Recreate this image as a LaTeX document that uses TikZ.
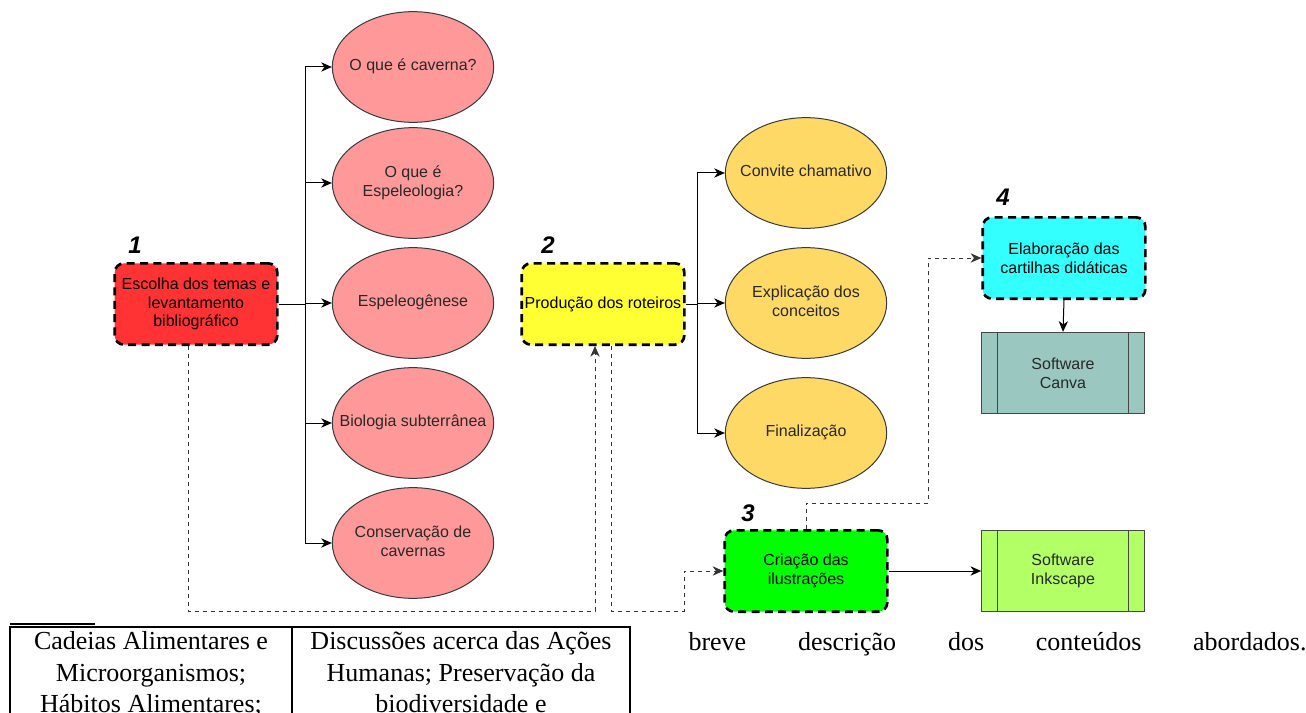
\documentclass[tikz,border=0pt]{standalone}
\usepackage{fontspec}
\setmainfont{Liberation Serif}
\newfontfamily\diagfont{Liberation Sans}
\usetikzlibrary{shapes.geometric,arrows.meta}

\newcommand{\ovaltxt}[1]{\makebox[0pt]{\begin{tabular}{@{}c@{}}#1\end{tabular}}}

\tikzset{every picture/.style={line width=0.75pt}}
\tikzset{
  etapa/.style={draw=black, line width=2pt, dash pattern=on 6pt off 4pt, rounded corners=7pt,
    minimum width=122pt, minimum height=61pt, inner sep=1pt, align=center,
    font=\diagfont\fontsize{12}{14}\selectfont},
  oval/.style={ellipse, draw={rgb, 255:red, 54; green, 57; blue, 61}, line width=0.75pt,
    minimum width=121pt, minimum height=83pt, inner sep=0pt,
    font=\diagfont\fontsize{12}{14}\selectfont, text={rgb, 255:red, 40; green, 40; blue, 40}},
  programa/.style={draw={rgb, 255:red, 70; green, 70; blue, 70}, line width=0.75pt,
    minimum width=122pt, minimum height=61pt, align=center,
    font=\diagfont\fontsize{12}{14}\selectfont, text={rgb, 255:red, 40; green, 40; blue, 40},
    path picture={\draw[line width=0.75pt, color={rgb, 255:red, 70; green, 70; blue, 70}]
      ([xshift=12pt]path picture bounding box.north west) -- ([xshift=12pt]path picture bounding box.south west)
      ([xshift=-12pt]path picture bounding box.north east) -- ([xshift=-12pt]path picture bounding box.south east);}},
  numero/.style={inner sep=0.75pt, font=\diagfont\fontsize{18}{20}\selectfont\bfseries\itshape},
  seta/.style={-{Stealth[length=8pt,width=7pt,inset=2.5pt]}, line width=0.75pt},
  tracejado/.style={line width=0.75pt, dash pattern=on 3pt off 3pt, draw={rgb, 255:red, 51; green, 51; blue, 51}},
  corpo/.style={inner sep=0pt, font=\fontsize{19.5}{23.6}\selectfont}
}

\begin{document}
\begin{tikzpicture}[x=0.75pt,y=0.75pt,yscale=-1,xscale=1]
\useasboundingbox (0,0) rectangle (1306,713);

%Shape: Rounded Rect (etapas)
\draw (196,304) node [etapa, fill={rgb, 255:red, 255; green, 51; blue, 51}] (tema) {Escolha dos temas e\\levantamento\\bibliográfico};
\draw (603,304) node [etapa, fill={rgb, 255:red, 255; green, 255; blue, 51}] (roteiro) {Produção dos roteiros};
\draw (806,571) node [etapa, fill={rgb, 255:red, 0; green, 255; blue, 0}] (ilustra) {Criação das\\ilustrações};
\draw (1064,258) node [etapa, fill={rgb, 255:red, 51; green, 255; blue, 255}] (cartilha) {Elaboração das\\cartilhas didáticas};

% Text Node (numeros)
\draw (135,245) node [numero] (n1) {1};
\draw (548,245) node [numero] (n2) {2};
\draw (748,513) node [numero] (n3) {3};
\draw (1003,197) node [numero] (n4) {4};

%Shape: Ellipse (temas)
\draw (413,67) node [oval, fill={rgb, 255:red, 255; green, 153; blue, 153}] (caverna) {\ovaltxt{O que é caverna?}};
\draw (413,183) node [oval, fill={rgb, 255:red, 255; green, 153; blue, 153}] (espeleo) {\ovaltxt{O que é\\Espeleologia?}};
\draw (413,303) node [oval, fill={rgb, 255:red, 255; green, 153; blue, 153}] (genese) {\ovaltxt{Espeleogênese}};
\draw (413,423) node [oval, fill={rgb, 255:red, 255; green, 153; blue, 153}] (biologia) {\ovaltxt{Biologia subterrânea}};
\draw (413,543) node [oval, fill={rgb, 255:red, 255; green, 153; blue, 153}] (conserva) {\ovaltxt{Conservação de\\cavernas}};

%Shape: Ellipse (roteiro)
\draw (806,173) node [oval, fill={rgb, 255:red, 255; green, 217; blue, 102}] (convite) {\ovaltxt{Convite chamativo}};
\draw (806,303) node [oval, fill={rgb, 255:red, 255; green, 217; blue, 102}] (explica) {\ovaltxt{Explicação dos\\conceitos}};
\draw (806,433) node [oval, fill={rgb, 255:red, 255; green, 217; blue, 102}] (final) {\ovaltxt{Finalização}};

%Shape: Process (softwares)
\draw (1063,373) node [programa, fill={rgb, 255:red, 154; green, 199; blue, 191}] (canva) {Software\\Canva};
\draw (1063,571) node [programa, fill={rgb, 255:red, 179; green, 255; blue, 102}] (inkscape) {Software\\Inkscape};

%Straight Lines (ramos)
\coordinate (troncoA) at (305,304);
\coordinate (troncoB) at (697,304);
\draw (tema.east) -- (troncoA);
\foreach \alvo in {caverna,espeleo,genese,biologia,conserva}
  \draw [seta] (troncoA) |- (\alvo.west);
\draw (roteiro.east) -- (troncoB);
\foreach \alvo in {convite,explica,final}
  \draw [seta] (troncoB) |- (\alvo.west);
\draw [seta] (cartilha.south) -- (canva.north);
\draw [seta] (ilustra.east) -- (inkscape.west);

%Dashed Lines (sequencia)
\draw [tracejado, seta] ([xshift=-6pt]tema.south) |- (595,611) -- ([xshift=-6pt]roteiro.south);
\draw [tracejado, seta] ([xshift=6pt]roteiro.south) |- (684,611) |- (ilustra.west);
\draw [tracejado, seta] (ilustra.north) |- (928,503) |- (cartilha.west);

%Table (texto da pagina)
\draw [line width=1.5pt] (10,624) -- (95,624);
\draw [line width=1pt] (10,713) -- (10,627) -- (630,627) -- (630,713) (292,627) -- (292,713);
\draw (151,631) node [corpo, anchor=north, align=center] (col1) {Cadeias Alimentares e\\Microorganismos;\\Hábitos Alimentares;};
\draw (461,631) node [corpo, anchor=north, align=center] (col2) {Discussões acerca das Ações\\Humanas; Preservação da\\biodiversidade e};
\draw (688,650) node [corpo, anchor=base west] (frase) {\makebox[463.5pt][s]{breve\hfill descrição\hfill dos\hfill conteúdos\hfill abordados.}};

\end{tikzpicture}
\end{document}
